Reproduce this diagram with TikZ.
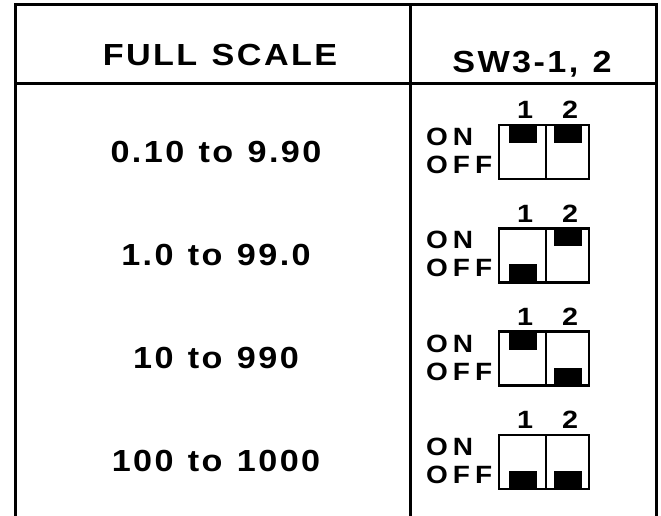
\documentclass[tikz,border=0pt]{standalone}
\usepackage{fontspec}
\setmainfont{Liberation Sans}
\newfontfamily\tabfont[FakeStretch=1.12,LetterSpace=8,WordSpace=1.2]{Liberation Sans Bold}
\newfontfamily\swfont[FakeStretch=1.12,LetterSpace=20]{Liberation Sans Bold}
\newfontfamily\numfont[FakeStretch=1.15]{Liberation Sans Bold}
\begin{document}
\begin{tikzpicture}[x=1pt,y=-1pt,
  tl/.style={line width=3pt},
  bx/.style={line width=2.5pt},
  hdr/.style={anchor=base,inner sep=0pt,font=\fontsize{30.5}{30.5}\tabfont},
  rowtxt/.style={anchor=base,inner sep=0pt,font=\fontsize{30.5}{30.5}\tabfont},
  swlab/.style={anchor=base west,inner sep=0pt,font=\fontsize{25}{25}\swfont},
  numlab/.style={anchor=base,inner sep=0pt,font=\fontsize{25}{25}\numfont}]
\useasboundingbox (0,0) rectangle (661,516);
% table frame
\draw[tl] (15,516) -- (15,5) -- (656,5) -- (656,516);
\draw[tl] (410,5) -- (410,516);
\draw[tl] (15,84) -- (656,84);
% headers
\node[hdr] (fs) at (220,66) {FULL SCALE};
\node[hdr] (sw) at (532,73) {SW3-1, 2};
% rows
\foreach \i/\txt/\sa/\sb in {0/{0.10 to 9.90}/1/1, 1/{1.0 to 99.0}/0/1, 2/{10 to 990}/1/0, 3/{100 to 1000}/0/0}{
  \pgfmathsetmacro\t{125+103.33*\i}
  \node[rowtxt] (r\i) at (216,\t+37) {\txt};
  \node[numlab] (one\i) at (525,\t-6) {1};
  \node[numlab] (two\i) at (570,\t-6) {2};
  \node[swlab] (on\i) at (426,\t+20.5) {ON};
  \node[swlab] (off\i) at (426,\t+48.5) {OFF};
  \draw[bx] (499,\t) rectangle (589,\t+54);
  \draw[bx] (546,\t) -- (546,\t+54);
  \ifnum\sa=1
    \fill (509,\t) rectangle (537,\t+18);
  \else
    \fill (509,\t+36) rectangle (537,\t+54);
  \fi
  \ifnum\sb=1
    \fill (554,\t) rectangle (582,\t+18);
  \else
    \fill (554,\t+36) rectangle (582,\t+54);
  \fi
}
\end{tikzpicture}
\end{document}
